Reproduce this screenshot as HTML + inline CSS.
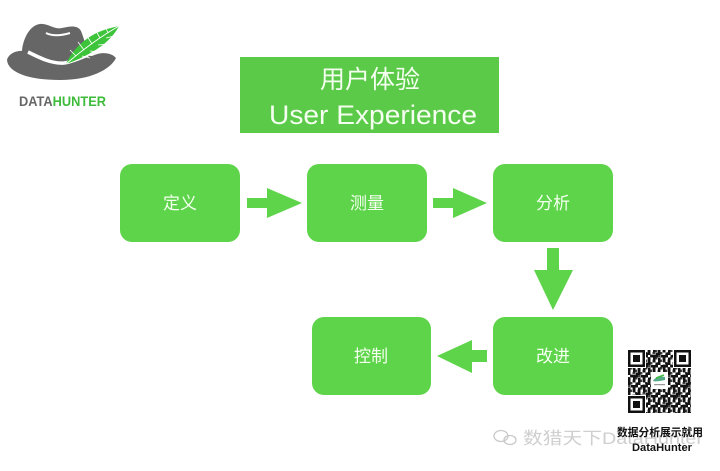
<!DOCTYPE html>
<html>
<head>
<meta charset="utf-8">
<style>
html,body{margin:0;padding:0;background:#fff;}
body{width:720px;height:471px;overflow:hidden;}
svg{display:block;}
.lbl{font-family:"Liberation Sans","Noto Sans CJK SC",sans-serif;font-size:17px;fill:#f4fff0;text-anchor:middle;}
</style>
</head>
<body>
<svg width="720" height="471" viewBox="0 0 720 471" xmlns="http://www.w3.org/2000/svg">
<defs>
<pattern id="qr" x="628" y="350" width="10" height="10" patternUnits="userSpaceOnUse">
<rect x="0" y="0" width="10" height="10" fill="#fff"/>
<rect x="0" y="0" width="2.5" height="5" fill="#111"/>
<rect x="5" y="0" width="2.5" height="2.5" fill="#111"/>
<rect x="2.5" y="5" width="5" height="2.5" fill="#111"/>
<rect x="7.5" y="2.5" width="2.5" height="5" fill="#111"/>
<rect x="0" y="7.5" width="2.5" height="2.5" fill="#111"/>
<rect x="5" y="7.5" width="2.5" height="2.5" fill="#111"/>
</pattern>
<pattern id="qr2" x="630" y="352" width="7.5" height="7.5" patternUnits="userSpaceOnUse">
<rect x="0" y="0" width="2.5" height="2.5" fill="#111"/>
<rect x="5" y="2.5" width="2.5" height="2.5" fill="#111"/>
<rect x="2.5" y="5" width="2.5" height="2.5" fill="#111"/>
</pattern>
</defs>

<!-- Logo hat -->
<path d="M7,60 C9,52 20,49 28,52 L92,56 C102,51 112,53 116,58 C110,70 90,80 60,80 C30,80 8,73 7,60 Z" fill="#666"/>
<path d="M22,56 C21,42 29,25 40,24 C48,23 54,30 62,28 C70,26 78,25 81,31 C85,41 87,50 87,60 Z" fill="#666"/>
<path d="M28,52 C40,58 52,64 64,63 C72,62 80,58 88,55" stroke="#fff" stroke-width="3.5" fill="none"/>
<path d="M46,33 C52,36 60,36 70,33" stroke="#fff" stroke-width="2" fill="none"/>
<!-- feather -->
<path d="M66,64 C72,50 86,36 104,30 C110,28 115,27 119,26 C116,32 110,40 100,47 C90,54 78,60 66,64 Z" fill="#3dc43a"/>
<path d="M66,64 C80,52 98,38 119,26" stroke="#fff" stroke-width="1" fill="none"/>
<path d="M76,56 L70,50 M84,50 L78,42 M92,44 L87,36 M100,38 L96,31 M108,33 L106,28 M82,56 L90,58 M90,51 L100,52 M98,45 L108,44 M106,38 L114,36" stroke="#fff" stroke-width="0.8"/>
<text x="19" y="106" font-family="Liberation Sans, sans-serif" font-weight="bold" font-size="14" textLength="87" lengthAdjust="spacingAndGlyphs"><tspan fill="#666">DATA</tspan><tspan fill="#3dbb3a">HUNTER</tspan></text>

<!-- Title box -->
<rect x="240" y="57" width="259" height="76" fill="#5cca49"/>
<text x="370" y="88" font-family="Liberation Sans, 'Noto Sans CJK SC', sans-serif" font-size="25" fill="#f4fff0" text-anchor="middle">用户体验</text>
<text x="373" y="124" font-family="Liberation Sans, sans-serif" font-size="27" fill="#f4fff0" text-anchor="middle" textLength="208" lengthAdjust="spacingAndGlyphs">User Experience</text>

<!-- Boxes -->
<rect x="120" y="164" width="120" height="78" rx="12" fill="#5ed44a"/>
<rect x="307" y="164" width="120" height="78" rx="12" fill="#5ed44a"/>
<rect x="493" y="164" width="120" height="78" rx="12" fill="#5ed44a"/>
<rect x="312" y="317" width="119" height="78" rx="12" fill="#5ed44a"/>
<rect x="493" y="317" width="120" height="78" rx="12" fill="#5ed44a"/>

<text class="lbl" x="180" y="209">定义</text>
<text class="lbl" x="367" y="209">测量</text>
<text class="lbl" x="553" y="209">分析</text>
<text class="lbl" x="371" y="362">控制</text>
<text class="lbl" x="553" y="362">改进</text>

<!-- Arrows -->
<polygon points="247,198 267,198 267,188 302,203 267,218 267,208 247,208" fill="#5ed44a"/>
<polygon points="433,198 453,198 453,188 487,203 453,218 453,208 433,208" fill="#5ed44a"/>
<polygon points="547,248 559,248 559,270 573,270 553,310 534,270 547,270" fill="#5ed44a"/>
<polygon points="487,350 472,350 472,340 437,356 472,373 472,362 487,362" fill="#5ed44a"/>

<!-- QR code -->
<rect x="628" y="350" width="63" height="63" fill="url(#qr)"/>
<rect x="628" y="350" width="63" height="63" fill="url(#qr2)" opacity="0.8"/>
<g>
<rect x="628" y="350" width="18" height="18" fill="#fff"/>
<rect x="628" y="350" width="17" height="17" fill="#111"/>
<rect x="630.5" y="352.5" width="12" height="12" fill="#fff"/>
<rect x="633" y="355" width="7" height="7" fill="#111"/>
<rect x="673" y="350" width="18" height="18" fill="#fff"/>
<rect x="674" y="350" width="17" height="17" fill="#111"/>
<rect x="676.5" y="352.5" width="12" height="12" fill="#fff"/>
<rect x="679" y="355" width="7" height="7" fill="#111"/>
<rect x="628" y="395" width="18" height="18" fill="#fff"/>
<rect x="628" y="396" width="17" height="17" fill="#111"/>
<rect x="630.5" y="398.5" width="12" height="12" fill="#fff"/>
<rect x="633" y="401" width="7" height="7" fill="#111"/>
</g>
<rect x="651" y="372" width="17" height="17" fill="#fff"/>
<path d="M653,381 C655,377 660,376 665,377 L665,380 C660,381 656,382 653,381 Z" fill="#5a8"/>
<path d="M656,378 L664,375" stroke="#4b4" stroke-width="1.5"/>
<rect x="654" y="384" width="11" height="1.2" fill="#999"/>

<!-- watermark -->
<g fill="none" stroke="#c8c8c8" stroke-width="1.3">
<ellipse cx="501" cy="436" rx="7" ry="5.5"/>
<ellipse cx="510" cy="440" rx="6" ry="4.5"/>
</g>
<text x="523" y="444" font-family="Liberation Sans, 'Noto Sans CJK SC', sans-serif" font-size="17" fill="#cfcfcf" textLength="180" lengthAdjust="spacingAndGlyphs">数猎天下DataHunter</text>

<text x="660" y="436" font-family="Liberation Sans, 'Noto Sans CJK SC', sans-serif" font-size="11" font-weight="bold" fill="#111" text-anchor="middle" textLength="86" lengthAdjust="spacingAndGlyphs">数据分析展示就用</text>
<text x="662" y="451" font-family="Liberation Sans, sans-serif" font-size="11" font-weight="bold" fill="#111" text-anchor="middle" textLength="60" lengthAdjust="spacingAndGlyphs">DataHunter</text>
</svg>
</body>
</html>
